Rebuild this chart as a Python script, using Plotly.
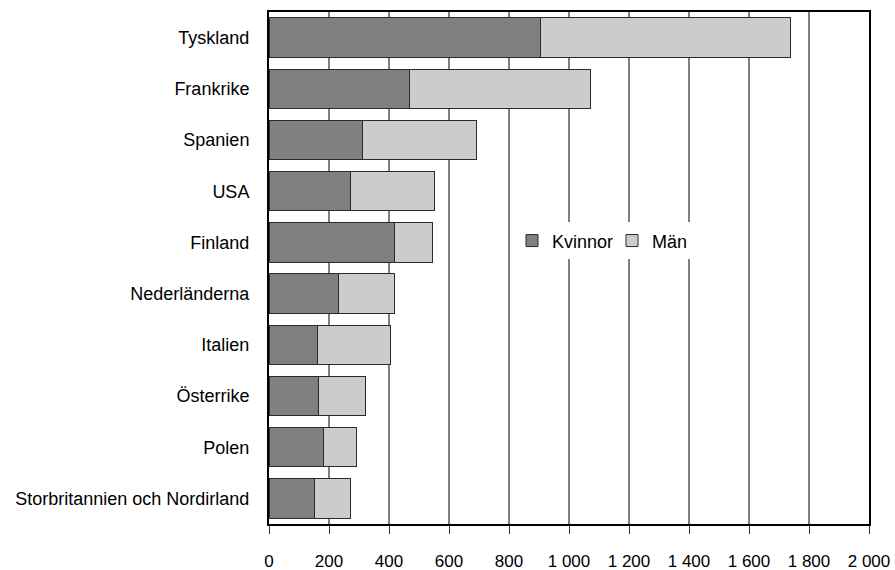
import plotly.graph_objects as go

categories = ["Tyskland", "Frankrike", "Spanien", "USA", "Finland",
              "Nederländerna", "Italien", "Österrike", "Polen",
              "Storbritannien och Nordirland"]
kvinnor = [906, 467, 313, 271, 419, 232, 160, 166, 180, 152]
man = [833, 606, 380, 281, 127, 187, 246, 154, 112, 120]
tick_vals = [0, 200, 400, 600, 800, 1000, 1200, 1400, 1600, 1800, 2000]
tick_text = ["0", "200", "400", "600", "800", "1 000", "1 200", "1 400", "1 600", "1 800", "2 000"]

FONT = "Liberation Sans, Arial, sans-serif"

fig = go.Figure()
fig.add_trace(go.Bar(y=categories, x=kvinnor, name="Kvinnor", orientation="h",
                     marker=dict(color="#808080", line=dict(color="#2a2a2a", width=1))))
fig.add_trace(go.Bar(y=categories, x=man, name="Män", orientation="h",
                     marker=dict(color="#cccccc", line=dict(color="#2a2a2a", width=1))))

fig.update_layout(
    width=895, height=570,
    barmode="stack", bargap=0.227,
    paper_bgcolor="white", plot_bgcolor="white",
    margin=dict(l=269, r=26, t=12, b=46, pad=0),
    font=dict(family=FONT, size=18, color="black"),
    legend=dict(orientation="h", x=0.405, xanchor="left", y=0.553, yanchor="middle",
                bgcolor="white", borderwidth=0, font=dict(size=18, family=FONT),
                itemwidth=30, traceorder="normal", entrywidth=55, entrywidthmode="pixels"),
    xaxis=dict(range=[0, 2000], tickvals=tick_vals, ticktext=tick_text,
               showgrid=True, gridcolor="#808080", gridwidth=1.5,
               showline=True, linecolor="black", linewidth=2, mirror=True,
               ticks="outside", ticklen=8, tickcolor="#333333", tickwidth=1,
               tickfont=dict(size=17, family=FONT), ticklabelstandoff=13,
               zeroline=False, fixedrange=True, automargin=False),
    yaxis=dict(autorange="reversed", showgrid=False,
               showline=True, linecolor="black", linewidth=2, mirror=True,
               ticks="", tickfont=dict(size=18, family=FONT), ticklabelstandoff=14,
               fixedrange=True, automargin=False),
)

fig.write_html("out.html",
               config={"displayModeBar": False},
               post_script="document.body.style.margin='0';document.body.style.overflow='hidden';")
